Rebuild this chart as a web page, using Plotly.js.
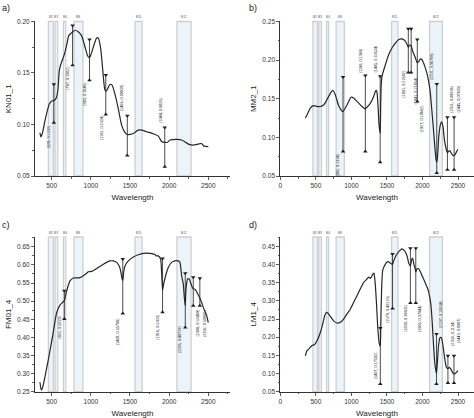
<!DOCTYPE html>
<html><head><meta charset="utf-8">
<script src="https://cdn.plot.ly/plotly-3.0.1.min.js"></script>
<style>html,body{margin:0;padding:0;background:#fff}#chart{width:474px;height:418px}</style>
</head><body><div id="chart"></div>
<script>
// ---------- DATA ----------
const bandNames = ['B2','B3','B4','B8','B11','B12'];
const bandStart = [458,543,650,785,1565,2100];
const bandEnd   = [523,578,680,900,1655,2280];

const panelLetters = ['a)','b)','c)','d)'];
const sampleNames = ['KN01_1','MM2_1','FM01_4','LM1_4'];

// a) KN01_1
const wlA = [350,362,380,410,440,470,500,530,560,580,597,615,648,670,691,720,755,797,840,883,925,955,975,990,1032,1074,1095,1126,1151,1180,1200,1243,1269,1307,1350,1393,1435,1466,1500,1542,1606,1649,1713,1798,1862,1904,1944,1980,2011,2096,2160,2245,2309,2372,2415,2445,2500];
const refA = [0.092,0.088,0.091,0.102,0.112,0.120,0.1228,0.1232,0.126,0.134,0.152,0.158,0.165,0.170,0.177,0.1865,0.189,0.1915,0.190,0.186,0.1755,0.1675,0.165,0.1656,0.1753,0.184,0.184,0.1737,0.154,0.1335,0.1325,0.1389,0.1385,0.130,0.1156,0.0994,0.0923,0.0903,0.0905,0.0913,0.0946,0.0945,0.093,0.091,0.0887,0.0835,0.0826,0.0828,0.085,0.0855,0.085,0.081,0.080,0.081,0.0815,0.079,0.0785];
const peakWA = [528,767,983,1191,1466,1944];
const peakVA = [0.1232,0.1902,0.1646,0.1324,0.09028,0.0826];

// b) MM2_1
const wlB = [352,375,422,469,516,563,610,657,704,737,774,821,868,882,915,962,994,1032,1079,1149,1182,1196,1219,1266,1313,1337,1351,1362,1375,1390,1405,1412,1420,1431,1478,1525,1572,1619,1666,1712,1759,1785,1801,1820,1841,1860,1880,1900,1927,1950,1970,1994,2017,2040,2064,2087,2111,2130,2150,2170,2190,2201,2212,2228,2251,2268,2289,2308,2336,2351,2368,2385,2406,2430,2445,2460,2480,2500];
const refB = [0.125,0.129,0.138,0.141,0.140,0.140,0.142,0.149,0.157,0.161,0.155,0.141,0.134,0.1334,0.138,0.1465,0.152,0.151,0.1465,0.140,0.1375,0.1369,0.139,0.144,0.153,0.1595,0.161,0.157,0.140,0.115,0.10524,0.14,0.168,0.179,0.194,0.207,0.216,0.222,0.2267,0.2275,0.2245,0.220,0.21692,0.2195,0.21854,0.212,0.2075,0.203,0.19662,0.1985,0.2015,0.2005,0.196,0.190,0.1825,0.1725,0.157,0.137,0.115,0.092,0.072,0.06798,0.075,0.100,0.116,0.120,0.114,0.097,0.084,0.08036,0.082,0.083,0.0795,0.0765,0.07633,0.078,0.0816,0.0847];
const peakWB = [882,1196,1405,1801,1841,1927,2201,2351,2445];
const peakVB = [0.1334,0.1369,0.10524,0.21692,0.21854,0.19662,0.06798,0.08036,0.07633];

// c) FM01_4
const wlC = [350,368,385,415,457,484,521,543,564,606,640,662,691,734,777,819,862,904,947,968,1011,1074,1160,1245,1287,1330,1364,1385,1398,1408,1419,1436,1479,1543,1606,1670,1755,1819,1832,1862,1891,1905,1916,1928,1955,1989,2032,2074,2117,2138,2160,2181,2194,2206,2215,2236,2257,2274,2292,2308,2330,2351,2381,2392,2415,2445,2479,2500];
const refC = [0.276,0.254,0.262,0.292,0.338,0.37,0.415,0.445,0.468,0.489,0.497,0.5018,0.528,0.556,0.564,0.564,0.565,0.570,0.577,0.581,0.582,0.590,0.602,0.611,0.611,0.607,0.596,0.579,0.563,0.55708,0.579,0.597,0.611,0.622,0.628,0.632,0.632,0.629,0.625,0.625,0.616,0.575,0.5303,0.545,0.570,0.593,0.607,0.611,0.611,0.607,0.570,0.547,0.51,0.48729,0.533,0.561,0.561,0.551,0.540,0.53409,0.533,0.526,0.513,0.50895,0.496,0.478,0.46,0.441];
const peakWC = [662,1408,1916,2206,2308,2392];
const peakVC = [0.5018,0.55708,0.5303,0.48729,0.53409,0.50895];

// d) LM1_4
const wlD = [352,375,399,446,479,516,563,596,624,647,671,704,750,797,844,891,938,985,1032,1079,1126,1173,1219,1243,1266,1280,1304,1318,1332,1351,1370,1390,1407,1415,1425,1440,1478,1510,1548,1571,1579,1595,1632,1679,1712,1745,1773,1792,1806,1830,1850,1862,1881,1895,1906,1923,1947,1970,1994,2027,2055,2083,2102,2120,2134,2148,2162,2177,2197,2210,2225,2245,2265,2290,2310,2335,2358,2375,2400,2420,2443,2465,2485,2500];
const refD = [0.149,0.163,0.167,0.177,0.179,0.19,0.213,0.236,0.259,0.268,0.266,0.257,0.245,0.239,0.241,0.25,0.264,0.277,0.296,0.314,0.333,0.351,0.360,0.365,0.362,0.365,0.374,0.376,0.355,0.300,0.230,0.185,0.17502,0.25,0.33,0.383,0.401,0.408,0.404,0.401,0.40123,0.41,0.426,0.438,0.443,0.438,0.429,0.417,0.404,0.39602,0.415,0.417,0.399,0.39,0.37944,0.388,0.388,0.380,0.369,0.355,0.342,0.328,0.31,0.287,0.25,0.204,0.158,0.122,0.10034,0.13,0.175,0.198,0.199,0.175,0.145,0.118,0.1134,0.117,0.112,0.104,0.0987,0.101,0.105,0.108];
const peakWD = [1407,1579,1830,1906,2197,2358,2443];
const peakVD = [0.17502,0.40123,0.39602,0.37944,0.10034,0.1134,0.0987];

// ---------- LAYOUT (marker-line extents and label placement) ----------
const markTop = [
  [0.139,0.196,0.1825,0.148,0.1084,0.0972],
  [0.178,0.18,0.179,0.2405,0.2405,0.2266,0.169,0.126,0.126],
  [0.529,0.616,0.618,0.577,0.566,0.563],
  [0.225,0.429,0.4445,0.4445,0.209,0.149,0.149]
];
const markBot = [
  [0.1017,0.1576,0.143,0.1098,0.070,0.059],
  [0.0816,0.0816,0.0678,0.184,0.184,0.1465,0.054,0.058,0.058],
  [0.451,0.466,0.469,0.427,0.487,0.487],
  [0.071,0.279,0.294,0.294,0.071,0.074,0.074]
];
const labY = [
  [0.101,0.1576,0.143,0.111,0.1108,0.0994],
  [0.0816,0.181,0.181,0.190,0.181,0.145,0.172,0.129,0.129],
  [0.466,0.4616,0.467,0.4387,0.4845,0.4845],
  [0.078,0.322,0.297,0.297,0.22,0.17,0.178]
];
const labAnch = [
  ['top','top','top','top','bottom','bottom'],
  ['top','bottom','bottom','top','top','top','bottom','bottom','bottom'],
  ['top','top','top','top','top','top'],
  ['bottom','top','top','top','bottom','bottom','bottom']
];
const labSide = [
  ['l','l','l','l','l','l'],
  ['l','l','l','l','r','r','l','r','r'],
  ['l','l','l','l','r','r'],
  ['l','l','l','r','r','r','r']
];

const wls = [wlA,wlB,wlC,wlD];
const refs = [refA,refB,refC,refD];
const peakWs = [peakWA,peakWB,peakWC,peakWD];
const peakVs = [peakVA,peakVB,peakVC,peakVD];

const xDom = [[0.0738,0.4852],[0.5914,0.9994],[0.0738,0.4852],[0.5914,0.9994]];
const yDom = [[0.5789,0.9486],[0.5789,0.9486],[0.0629,0.4330],[0.0629,0.4330]];
const xRng = [[287,2777],[0,2721],[287,2777],[0,2721]];
const yRng = [[0.05,0.20],[0.05,0.25],[0.25,0.677],[0.05,0.4756]];

const FONT = 'Liberation Sans, Arial, sans-serif';
const traces = [];
const shapes = [];
const annotations = [];
const layout = {
  width:474, height:418, margin:{l:0,r:0,t:0,b:0},
  paper_bgcolor:'#fff', plot_bgcolor:'rgba(0,0,0,0)',
  showlegend:false, font:{family:FONT, color:'#222'}
};

for (let p=0;p<4;p++){
  const s = p===0 ? '' : String(p+1);
  const xa = 'x'+s, ya = 'y'+s;
  const axStyle = {
    showline:true, linecolor:'#333', linewidth:1, mirror:false,
    ticks:'outside', ticklen:3, tickwidth:0.8, tickcolor:'#333',
    showgrid:false, zeroline:false,
    tickfont:{size:6.5, family:FONT, color:'#333'}, automargin:false
  };
  layout['xaxis'+s] = Object.assign({}, axStyle, {
    domain:xDom[p], range:xRng[p], anchor:ya, dtick:500, tick0:0,
    minor:{ticks:'outside', ticklen:1.6, dtick:250, tickcolor:'#333'},
    title:{text:'Wavelength', font:{size:8, family:FONT, color:'#222'}, standoff:6}
  });
  layout['yaxis'+s] = Object.assign({}, axStyle, {
    domain:yDom[p], range:yRng[p], anchor:xa, dtick:0.05, tick0:0, tickformat:'.2f',
    minor:{ticks:'outside', ticklen:1.6, dtick:0.025, tickcolor:'#333'},
    title:{text:sampleNames[p], font:{size:8, family:FONT, color:'#222'}, standoff:4}
  });

  // bands
  for (let b=0;b<bandNames.length;b++){
    shapes.push({type:'rect', xref:xa, yref:ya+' domain', x0:bandStart[b], x1:bandEnd[b], y0:0, y1:1,
      fillcolor:'rgba(218,234,244,0.5)', line:{color:'#cdd0d3', width:1.3}, layer:'below'});
    annotations.push({xref:xa, yref:ya+' domain', x:(bandStart[b]+bandEnd[b])/2, y:1.0, yanchor:'bottom',
      text:bandNames[b], showarrow:false, font:{size:3.2, family:FONT, color:'#555'}, yshift:0});
  }

  // curve
  traces.push({type:'scatter', mode:'lines', x:wls[p], y:refs[p], xaxis:xa, yaxis:ya,
    line:{color:'#262626', width:1.2, shape:'spline', smoothing:0.5}, hoverinfo:'skip'});

  // marker lines
  const mx=[], my=[], ms=[];
  for (let i=0;i<peakWs[p].length;i++){
    mx.push(peakWs[p][i], peakWs[p][i], null);
    my.push(markTop[p][i], markBot[p][i], null);
    ms.push('triangle-down','triangle-up','circle');
    const left = labSide[p][i]==='l';
    annotations.push({xref:xa, yref:ya, x:peakWs[p][i], y:labY[p][i],
      xanchor: left?'right':'left', yanchor:labAnch[p][i], xshift: left?-0.5:0.5,
      text:'('+peakWs[p][i]+', '+peakVs[p][i]+')', textangle:-90, showarrow:false,
      font:{size:3.8, family:FONT, color:'#222'}});
  }
  traces.push({type:'scatter', mode:'lines+markers', x:mx, y:my, xaxis:xa, yaxis:ya,
    line:{color:'#1e1e1e', width:0.8}, marker:{symbol:ms, size:4, color:'#1e1e1e'}, hoverinfo:'skip'});

  // panel letter
  annotations.push({xref:'paper', yref:'paper', x:(p%2===0?0.0:0.522), y:(p<2?0.998:0.478),
    xanchor:'left', yanchor:'top', text:panelLetters[p], showarrow:false,
    font:{size:9, family:FONT, color:'#222'}});
}
layout.shapes = shapes;
layout.annotations = annotations;
Plotly.newPlot('chart', traces, layout, {displayModeBar:false, staticPlot:true});
</script></body></html>
